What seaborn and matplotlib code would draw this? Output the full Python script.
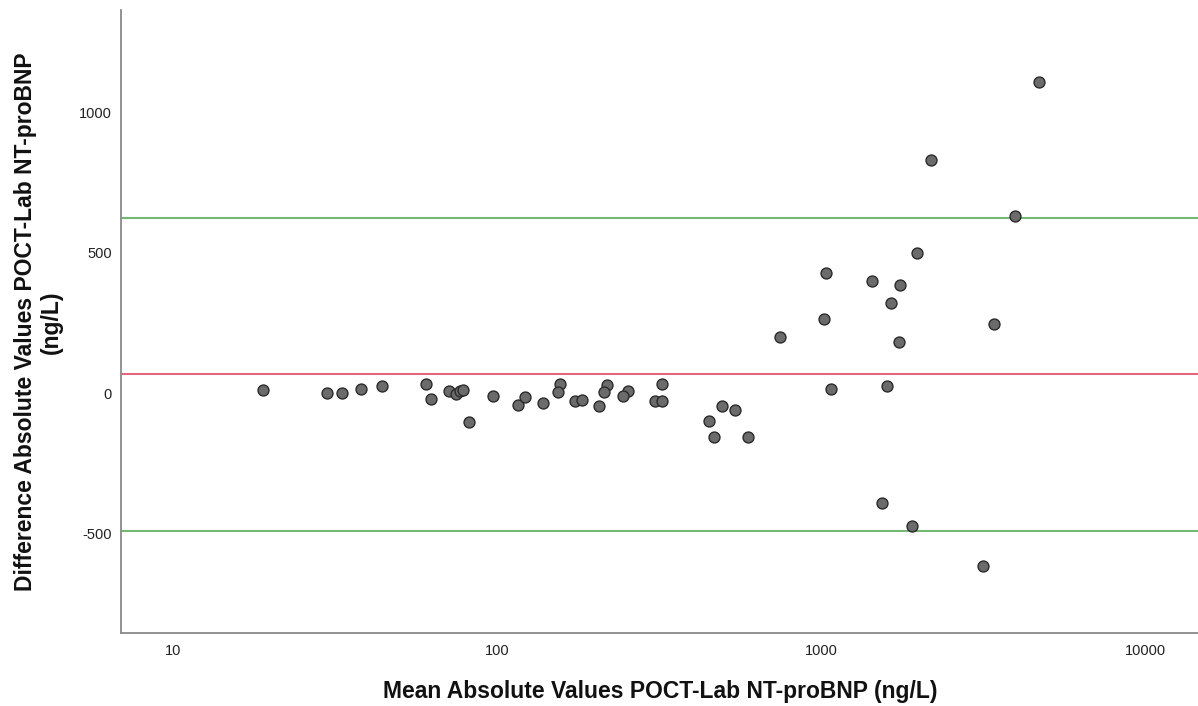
import numpy as np
import pandas as pd
import matplotlib
matplotlib.use('Agg')
import matplotlib.pyplot as plt
import seaborn as sns
from matplotlib.ticker import FixedLocator, FixedFormatter, NullLocator

# Bland-Altman data: mean of POCT and Lab (x, log scale) vs difference (y)
mean_values = [18.96, 29.7, 33.1, 37.9, 44.1, 60.1, 62.5, 70.9, 74.5, 76.7,
               78.5, 81.7, 96.9, 115.8, 121.9, 138.0, 155.7, 154.1, 173.2, 182.8,
               205.8, 217.9, 213.8, 252.9, 244.6, 305.7, 322.1, 322.1, 448.7, 467.0,
               494.2, 540.9, 592.0, 744.7, 1016.0, 1032.5, 1069.9, 1431.8, 1537.5, 1596.5,
               1642.5, 1743.2, 1738.0, 1906.0, 1966.6, 2177.0, 3156.0, 3414.0, 3947.0, 4699.0]
diff_values = [10.7, -1.1, 1.1, 13.2, 25.0, 31.0, -20.0, 8.0, -5.0, 8.0,
               11.0, -102.0, -11.0, -43.0, -13.0, -37.0, 32.0, 2.5, -30.0, -25.0,
               -46.0, 28.5, 4.6, 7.0, -11.0, -30.0, -30.0, 31.0, -101.0, -158.0,
               -45.0, -60.0, -156.0, 198.0, 264.0, 428.0, 13.0, 400.0, -391.0, 26.0,
               320.0, 385.0, 182.0, -473.0, 499.0, 830.0, -618.0, 245.0, 632.0, 1109.0]

mean_diff = 66.7
upper_loa = 625.0
lower_loa = -492.0

x_ticks = [10, 100, 1000, 10000]
x_tick_labels = ['10', '100', '1000', '10000']
y_ticks = [-500, 0, 500, 1000]
y_tick_labels = ['-500', '0', '500', '1000']
x_label = 'Mean Absolute Values POCT-Lab NT-proBNP (ng/L)'
y_label = 'Difference Absolute Values POCT-Lab NT-proBNP\n(ng/L)'

sns.set_style('white')
plt.rcParams['font.family'] = ['Liberation Sans', 'DejaVu Sans']

fig = plt.figure(figsize=(11.98, 7.06), dpi=100)
ax = fig.add_axes([0.1008, 0.1038, 0.8992, 0.882])

df = pd.DataFrame({'mean': mean_values, 'diff': diff_values})

ax.axhline(upper_loa, color='#74b874', lw=1.5, zorder=1)
ax.axhline(lower_loa, color='#74b874', lw=1.5, zorder=1)
ax.axhline(mean_diff, color='#e3667f', lw=1.5, zorder=1)

sns.scatterplot(data=df, x='mean', y='diff', ax=ax, s=62, color='#6b6b6b',
                edgecolor='#2a2a2a', linewidth=1.0, zorder=3, legend=False)

ax.set_xscale('log')
ax.set_xlim(6.88, 14500)
ax.set_ylim(-855, 1366)

ax.xaxis.set_major_locator(FixedLocator(x_ticks))
ax.xaxis.set_major_formatter(FixedFormatter(x_tick_labels))
ax.xaxis.set_minor_locator(NullLocator())
ax.yaxis.set_major_locator(FixedLocator(y_ticks))
ax.yaxis.set_major_formatter(FixedFormatter(y_tick_labels))

ax.tick_params(axis='x', length=0, labelsize=10.5, pad=8, labelcolor='#222222')
ax.tick_params(axis='y', length=0, labelsize=10.5, pad=6.5, labelcolor='#222222')

for side in ['top', 'right']:
    ax.spines[side].set_visible(False)
for side in ['left', 'bottom']:
    ax.spines[side].set_color('#8a8a8a')
    ax.spines[side].set_linewidth(1.3)

ax.set_xlabel(x_label, fontsize=16.5, fontweight='bold', color='#111111')
ax.xaxis.set_label_coords(0.5006, -0.0952)
ax.xaxis.label.set_va('center')

ax.set_ylabel(y_label, fontsize=16.5, fontweight='bold', color='#111111',
              multialignment='center')
ax.yaxis.set_label_coords(-0.0763, 0.499)
ax.yaxis.label.set_va('center')
ax.yaxis.label.set_ha('center')

fig.savefig('out.png', dpi=100)
